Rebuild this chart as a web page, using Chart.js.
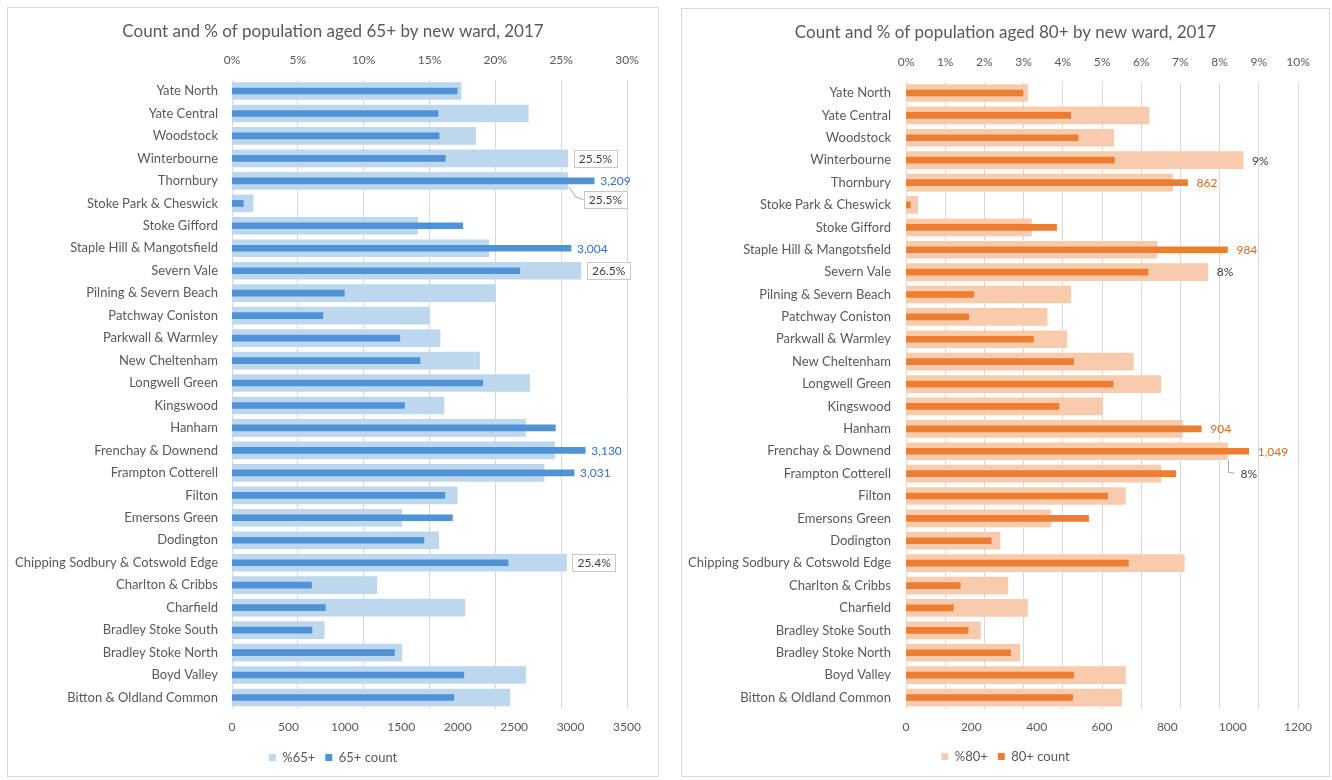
<!DOCTYPE html>
<html>
<head>
<meta charset="utf-8">
<title>Population aged 65+ and 80+ by ward, 2017</title>
<script src="https://cdn.jsdelivr.net/npm/chart.js@4.4.1/dist/chart.umd.min.js"></script>
<style>
  body { margin: 0; background: #fff; width: 1332px; height: 780px; overflow: hidden; }
  .panel { position: absolute; border: 1px solid #d9d9d9; background: #fff; }
  .panel canvas { display: block; }
  #p65 { left: 7px; top: 7px; width: 650px; height: 768px; }
  #p80 { left: 681px; top: 8px; width: 647px; height: 767px; }
</style>
</head>
<body>
<div class="panel" id="p65"><canvas id="c65" width="650" height="768"></canvas></div>
<div class="panel" id="p80"><canvas id="c80" width="647" height="767"></canvas></div>
<script>
/* wards, top to bottom */
const wards = [
  'Yate North', 'Yate Central', 'Woodstock', 'Winterbourne', 'Thornbury',
  'Stoke Park & Cheswick', 'Stoke Gifford', 'Staple Hill & Mangotsfield', 'Severn Vale',
  'Pilning & Severn Beach', 'Patchway Coniston', 'Parkwall & Warmley', 'New Cheltenham',
  'Longwell Green', 'Kingswood', 'Hanham', 'Frenchay & Downend', 'Frampton Cotterell',
  'Filton', 'Emersons Green', 'Dodington', 'Chipping Sodbury & Cotswold Edge',
  'Charlton & Cribbs', 'Charfield', 'Bradley Stoke South', 'Bradley Stoke North',
  'Boyd Valley', 'Bitton & Oldland Common'
];

/* 65+ : share of ward population (%) and head count */
const pct65 = [17.4, 22.5, 18.5, 25.5, 25.5, 1.6, 14.1, 19.5, 26.5, 20.0, 15.0, 15.8, 18.8, 22.6,
               16.1, 22.3, 24.5, 23.7, 17.1, 12.9, 15.7, 25.4, 11.0, 17.7, 7.0, 12.9, 22.3, 21.1];
const count65 = [1995, 1825, 1835, 1890, 3209, 100, 2045, 3004, 2550, 995, 805, 1487, 1666, 2222,
                 1528, 2865, 3130, 3031, 1886, 1953, 1700, 2446, 704, 827, 708, 1439, 2054, 1965];

/* 80+ */
const pct80 = [3.1, 6.2, 5.3, 8.6, 6.8, 0.3, 3.2, 6.4, 7.7, 4.2, 3.6, 4.1, 5.8, 6.5,
               5.0, 7.05, 8.2, 6.5, 5.6, 3.7, 2.4, 7.1, 2.6, 3.1, 1.9, 2.9, 5.6, 5.5];
const count80 = [358, 504, 527, 638, 862, 13, 461, 984, 741, 207, 192, 390, 513, 634,
                 468, 904, 1049, 826, 617, 559, 261, 681, 166, 145, 190, 320, 513, 510];

/* axis ticks */
const pctTicks65 = [0, 5, 10, 15, 20, 25, 30];
const countTicks65 = [0, 500, 1000, 1500, 2000, 2500, 3000, 3500];
const pctTicks80 = [0, 1, 2, 3, 4, 5, 6, 7, 8, 9, 10];
const countTicks80 = [0, 200, 400, 600, 800, 1000, 1200];

/* bars that carry a value label */
const pctLabelled65 = ['Winterbourne', 'Thornbury', 'Severn Vale', 'Chipping Sodbury & Cotswold Edge'];
const countLabelled65 = ['Thornbury', 'Staple Hill & Mangotsfield', 'Frenchay & Downend', 'Frampton Cotterell'];
const pctLabelled80 = ['Winterbourne', 'Severn Vale', 'Frenchay & Downend'];
const countLabelled80 = ['Thornbury', 'Staple Hill & Mangotsfield', 'Hanham', 'Frenchay & Downend'];

Chart.defaults.font.family = 'Lato, "Open Sans", sans-serif';
const TEXT = '#595959';

const fmtCount = v => v.toLocaleString('en-US');

/* value labels drawn after the bars; "moved" ones sit lower with a leader line */
const valueLabels = {
  id: 'valueLabels',
  afterDatasetsDraw(chart, args, opts) {
    const ctx = chart.ctx;
    ctx.save();
    ctx.font = '12px ' + Chart.defaults.font.family;
    ctx.textBaseline = 'middle';
    ctx.textAlign = 'left';
    (opts.items || []).forEach(it => {
      const i = wards.indexOf(it.ward);
      const bar = chart.getDatasetMeta(it.ds).data[i];
      const text = it.fmt(chart.data.datasets[it.ds].data[i]);
      const w = ctx.measureText(text).width;
      let x = bar.x + it.gap;
      let y = bar.y;
      if (it.moved) {
        y += it.moved.dy;
        x = bar.x + it.moved.dx;
        ctx.strokeStyle = '#a6a6a6';
        ctx.lineWidth = 1;
        ctx.beginPath();
        it.moved.leader.forEach(([lx, ly], k) => {
          k ? ctx.lineTo(bar.x + lx, bar.y + ly) : ctx.moveTo(bar.x + lx, bar.y + ly);
        });
        ctx.stroke();
      }
      if (it.box) {
        ctx.fillStyle = '#fff';
        ctx.strokeStyle = '#c8c8c8';
        ctx.lineWidth = 1;
        ctx.fillRect(x, y - 8.5, w + 10, 17);
        ctx.strokeRect(Math.round(x) + 0.5, Math.round(y - 8.5) + 0.5, Math.round(w + 10), 17);
        x += 5;
      }
      ctx.fillStyle = it.color;
      ctx.fillText(text, x, y + 0.5);
    });
    ctx.restore();
  }
};

function wardChart(id, c) {
  const titleH = c.titleTop + 17 * 1.2;
  return new Chart(document.getElementById(id), {
    type: 'bar',
    data: {
      labels: wards,
      datasets: [
        { label: c.pctName, data: c.pct, xAxisID: 'x2', backgroundColor: c.light,
          barThickness: 17, grouped: false, order: 1 },
        { label: c.countName, data: c.count, xAxisID: 'x', backgroundColor: c.dark,
          barThickness: 6, grouped: false, order: 0 }
      ]
    },
    options: {
      indexAxis: 'y',
      responsive: false,
      animation: false,
      layout: { padding: { left: 0, right: 0, top: 0, bottom: c.padBottom } },
      scales: {
        y: {
          afterFit: s => { s.width = 224; },
          grid: { display: false },
          border: { display: false },
          ticks: { color: TEXT, font: { size: 13 }, padding: c.yPad, autoSkip: false }
        },
        // blank right-hand margin, keeps title and legend centred on the panel
        yr: {
          type: 'category',
          position: 'right',
          afterFit: s => { s.width = 31; },
          grid: { display: false },
          border: { display: false },
          ticks: { display: false }
        },
        x2: {
          position: 'top',
          min: c.pctTicks[0],
          max: c.pctTicks[c.pctTicks.length - 1],
          afterBuildTicks: s => { s.ticks = c.pctTicks.map(v => ({ value: v })); },
          afterFit: s => { s.height = c.plotTop - titleH; },
          ticks: { color: TEXT, font: { size: 12 }, padding: 12, callback: v => v + '%' },
          grid: { color: '#d9d9d9', drawTicks: false },
          border: { display: false }
        },
        x: {
          position: 'bottom',
          min: c.countTicks[0],
          max: c.countTicks[c.countTicks.length - 1],
          afterBuildTicks: s => { s.ticks = c.countTicks.map(v => ({ value: v })); },
          afterFit: s => { s.height = c.xHeight; },
          ticks: { color: TEXT, font: { size: 12 }, padding: 11, callback: v => String(v) },
          grid: { display: false, drawTicks: false },
          border: { display: false }
        }
      },
      plugins: {
        title: {
          display: true, text: c.title, color: TEXT,
          font: { size: 17, weight: 'normal' },
          padding: { top: c.titleTop, bottom: 0 }
        },
        legend: {
          position: 'bottom',
          labels: {
            boxWidth: 7, boxHeight: 7, color: TEXT, font: { size: 13 }, padding: 10,
            sort: (a, b) => a.datasetIndex - b.datasetIndex
          }
        },
        tooltip: { enabled: false },
        valueLabels: { items: c.labels }
      }
    },
    plugins: [valueLabels]
  });
}

/* label specs for each panel */
const labels65 = [
  ...pctLabelled65.map(w => ({
    ward: w, ds: 0, gap: 6, box: true, color: '#404040', fmt: v => v.toFixed(1) + '%',
    moved: w === 'Thornbury'
      ? { dx: 16, dy: 19, leader: [[1, 6], [8, 16], [16, 19]] } : null
  })),
  ...countLabelled65.map(w => ({ ward: w, ds: 1, gap: 6, color: '#3470c0', fmt: fmtCount }))
];

const labels80 = [
  ...pctLabelled80.map(w => ({
    ward: w, ds: 0, gap: 9, color: '#404040', fmt: v => Math.round(v) + '%',
    moved: w === 'Frenchay & Downend'
      ? { dx: 13, dy: 22, leader: [[1, 9], [1, 21], [7, 22]] } : null
  })),
  ...countLabelled80.map(w => ({ ward: w, ds: 1, gap: 9, color: '#d4691e', fmt: fmtCount }))
];

wardChart('c65', {
  title: 'Count and % of population aged 65+ by new ward, 2017',
  pctName: '%65+', countName: '65+ count',
  pct: pct65, count: count65, pctTicks: pctTicks65, countTicks: countTicks65,
  light: '#bdd7ee', dark: '#4f93d6',
  titleTop: 13, plotTop: 71.8, xHeight: 32.3, padBottom: 2, yPad: 6,
  labels: labels65
});

wardChart('c80', {
  title: 'Count and % of population aged 80+ by new ward, 2017',
  pctName: '%80+', countName: '80+ count',
  pct: pct80, count: count80, pctTicks: pctTicks80, countTicks: countTicks80,
  light: '#f8cbad', dark: '#ed7d31',
  titleTop: 13, plotTop: 72.8, xHeight: 31.3, padBottom: 3, yPad: 7,
  labels: labels80
});
</script>
</body>
</html>
